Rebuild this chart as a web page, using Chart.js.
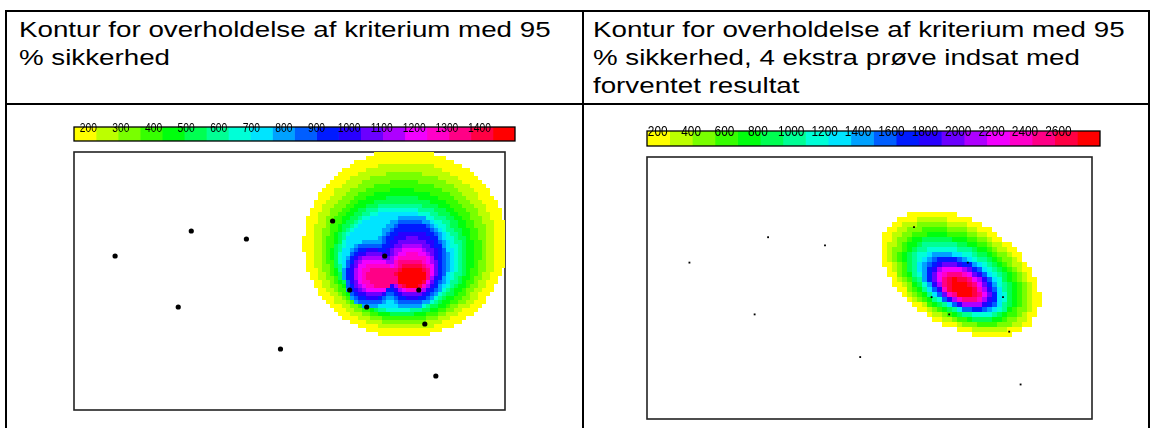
<!DOCTYPE html>
<html>
<head>
<meta charset="utf-8">
<script src="https://cdn.jsdelivr.net/npm/chart.js@4.4.1/dist/chart.umd.min.js"></script>
<style>
  body { margin: 0; background: #fff; width: 1151px; height: 428px; overflow: hidden; position: relative;
         font-family: 'Liberation Sans', Arial, sans-serif; }
  .ln { position: absolute; background: #000; }
  .hdr { position: absolute; top: 16px; font-size: 22px; line-height: 28px; color: #000; white-space: nowrap;
         transform: scaleX(1.26); transform-origin: 0 0; }
  canvas { position: absolute; }
</style>
</head>
<body>
<!-- tabel-linjer -->
<div class="ln" style="left:5px;top:10px;width:1145px;height:2px"></div>
<div class="ln" style="left:5px;top:103px;width:1145px;height:2px"></div>
<div class="ln" style="left:5px;top:10px;width:2px;height:430px"></div>
<div class="ln" style="left:582px;top:10px;width:2px;height:430px"></div>
<div class="ln" style="left:1148px;top:10px;width:2px;height:430px"></div>

<div class="hdr" style="left:19px">Kontur for overholdelse af kriterium med 95<br>% sikkerhed</div>
<div class="hdr" style="left:593px">Kontur for overholdelse af kriterium med 95<br>% sikkerhed, 4 ekstra prøve indsat med<br>forventet resultat</div>

<canvas id="cbLeft" width="449" height="32" style="left:70px;top:112px"></canvas>
<canvas id="mapLeft" width="443" height="270" style="left:68px;top:146px"></canvas>
<canvas id="cbRight" width="461" height="34" style="left:643px;top:115px"></canvas>
<canvas id="mapRight" width="457" height="274" style="left:641px;top:151px"></canvas>

<script>
// proevepunkter (samme placering i begge kort)
const sampleX = [41, 117, 172, 104, 206, 258, 310, 275, 292, 344, 350, 361];
const sampleY = [154, 179, 171, 103, 61, 189, 154, 120, 103, 120, 86, 34];

// farveskala
const levelsLeft = [200, 300, 400, 500, 600, 700, 800, 900, 1000, 1100, 1200, 1300, 1400];
const levelsRight = [200, 400, 600, 800, 1000, 1200, 1400, 1600, 1800, 2000, 2200, 2400, 2600];
const scaleLeft = [156, 1509];
const scaleRight = [136, 2849];

// konturer venstre kort: niveau, centrum, halvakser
const leftLevel = [0, 1, 2, 3, 4, 5, 6, 7, 8, 9, 9, 10, 10, 11, 11, 12, 12, 13, 13, 14, 14, 15, 15, 16, 16, 17, 17, 18, 19];
const leftCx = [330.5, 329.5, 329.5, 329, 328, 326.5, 325.5, 324, 323, 336, 295, 336.5, 295.5, 337, 296, 336.5, 297, 337, 298, 337, 299, 337, 301, 337, 304, 336.5, 308, 337, 337];
const leftCy = [166.5, 164, 161.5, 159, 156.5, 154.5, 152.5, 151, 149.5, 148.5, 136, 148, 136, 148, 136, 145.5, 136, 143.5, 136, 141.5, 135.5, 140, 135, 138, 134, 136, 133, 134.5, 133.5];
const leftRx = [101.5, 91.5, 83.5, 77, 71, 66.5, 62.5, 59, 56, 38, 26, 34.5, 24.5, 31, 23, 27.5, 21, 25, 20, 23, 19, 21, 19, 19, 18, 17.5, 16, 16, 14];
const leftRy = [93.5, 84, 76.5, 70, 64.5, 59.5, 55.5, 52, 49.5, 46.5, 34, 43, 31, 40, 28, 34.5, 25, 29.5, 22, 25.5, 19.5, 22, 17, 19, 14, 16, 11, 13.5, 10.5];

// konturer hoejre kort
const rightLevel = [0, 1, 2, 3, 4, 5, 6, 7, 8, 9, 10, 11, 12, 13, 14, 15, 16, 17, 18, 19];
const rightCx = [303, 303, 303, 303, 303, 303, 303, 303, 303, 303, 304, 304, 304, 304, 304, 304, 304, 304, 304, 304];
const rightCy = [143, 142, 141, 140, 139, 138, 137, 136, 135, 134, 133, 133, 132, 132, 131, 131, 130, 130, 129, 129];
const rightRx = [84, 77, 71, 65, 60, 56, 52, 48, 44, 41.5, 38.5, 36, 33, 30, 27.5, 25, 22.5, 19.5, 16, 12.5];
const rightRy = [52, 46.5, 43, 39.5, 36, 33.5, 30.5, 27.5, 25.5, 23.5, 22, 20.5, 19, 17.5, 16, 14.5, 13, 11, 9, 7];

const colors = Array.from({length: 20}, (_, k) => `hsl(${60 + 300 * k / 19}, 100%, 50%)`);

// plugin: farvebjaelke ramme + tal
const cbarPlugin = {
    id: 'cbar',
    afterDatasetsDraw(chart, args, opts) {
        const {ctx, chartArea: a} = chart;
        const x = chart.scales.x;
        ctx.save();
        ctx.strokeStyle = '#000';
        ctx.lineWidth = 1.3;
        ctx.strokeRect(a.left, a.top, a.width, a.height);
        ctx.fillStyle = '#000';
        ctx.font = opts.fontPx + 'px "Liberation Sans", Arial, sans-serif';
        ctx.textAlign = 'center';
        ctx.textBaseline = 'alphabetic';
        opts.levels.forEach(v => {
            ctx.save();
            ctx.translate(x.getPixelForValue(v), a.top + 0.36 * opts.fontPx);
            ctx.scale(0.79, 1);
            ctx.fillText(String(v), 0, 0);
            ctx.restore();
        });
        ctx.restore();
    }
};

const lagFarvebjaelke = (id, levels, range, fontPx, pad) => {
    const w = (range[1] - range[0]) / colors.length;
    new Chart(document.getElementById(id), {
        type: 'bar',
        data: {
            labels: [''],
            datasets: colors.map((c, k) => ({
                data: [[range[0] + k * w, range[0] + (k + 1) * w]],
                backgroundColor: c,
                borderWidth: 0,
                barPercentage: 1,
                categoryPercentage: 1,
                grouped: false
            }))
        },
        options: {
            indexAxis: 'y',
            responsive: false,
            animation: false,
            layout: {padding: pad},
            plugins: {legend: {display: false}, tooltip: {enabled: false}, cbar: {levels, fontPx}},
            scales: {
                x: {type: 'linear', min: range[0], max: range[1], display: false},
                y: {display: false}
            }
        },
        plugins: [cbarPlugin]
    });
};

// plugin: ramme + kontur-celler
const heatPlugin = {
    id: 'heat',
    beforeDatasetsDraw(chart, args, opts) {
        const {ctx, chartArea: a} = chart;
        const {x, y} = chart.scales;
        const r = opts.rings;
        const t = opts.tilt * Math.PI / 180, ct = Math.cos(t), st = Math.sin(t);
        const c = opts.cell;
        ctx.save();
        ctx.strokeStyle = '#222';
        ctx.lineWidth = 1.6;
        ctx.strokeRect(a.left, a.top, a.width, a.height);
        const x0 = Math.round(a.left), y0 = Math.round(a.top);
        const x1 = Math.round(a.right), y1 = Math.round(a.bottom);
        for (let py = y0; py < y1; py += c) {
            for (let px = x0; px < x1; px += c) {
                const vx = x.getValueForPixel(px + c / 2);
                const vy = y.getValueForPixel(py + c / 2);
                let best = -1;
                for (let i = 0; i < r.level.length; i++) {
                    if (r.level[i] <= best) continue;
                    const dx = vx - r.cx[i], dy = vy - r.cy[i];
                    const u = dx * ct + dy * st;
                    const v = -dx * st + dy * ct;
                    if ((u / r.rx[i]) ** 2 + (v / r.ry[i]) ** 2 <= 1) best = r.level[i];
                }
                if (best >= 0) {
                    ctx.fillStyle = colors[best];
                    ctx.fillRect(px, py, Math.min(c, x1 - px), Math.min(c, y1 - py));
                }
            }
        }
        ctx.restore();
    }
};

const lagKort = (id, rings, tilt, cell, point) => {
    new Chart(document.getElementById(id), {
        type: 'scatter',
        data: {
            datasets: [{
                data: sampleX.map((v, i) => ({x: v, y: sampleY[i]})),
                backgroundColor: '#000',
                borderColor: '#000',
                borderWidth: 0,
                pointStyle: point.style,
                pointRadius: point.r
            }]
        },
        options: {
            responsive: false,
            animation: false,
            layout: {padding: 6},
            plugins: {legend: {display: false}, tooltip: {enabled: false}, heat: {rings, tilt, cell}},
            scales: {
                x: {type: 'linear', min: 0, max: 430, display: false},
                y: {type: 'linear', min: 0, max: 258, display: false}
            }
        },
        plugins: [heatPlugin]
    });
};

lagFarvebjaelke('cbLeft', levelsLeft, scaleLeft, 13, {left: 4, right: 4, top: 15, bottom: 3});
lagFarvebjaelke('cbRight', levelsRight, scaleRight, 15, {left: 4, right: 4, top: 16, bottom: 3});

lagKort('mapLeft', {level: leftLevel, cx: leftCx, cy: leftCy, rx: leftRx, ry: leftRy}, 0, 4, {style: 'circle', r: 2.6});
lagKort('mapRight', {level: rightLevel, cx: rightCx, cy: rightCy, rx: rightRx, ry: rightRy}, -31, 5, {style: 'rect', r: 1.3});
</script>
</body>
</html>
